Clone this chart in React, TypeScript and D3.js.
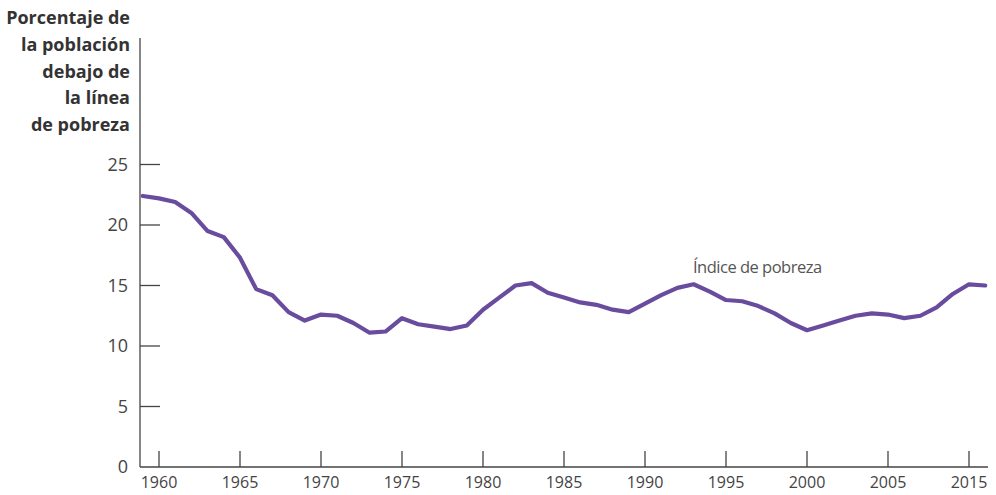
import React from 'react';
import * as d3 from 'd3';

// US poverty rate, 1959-2011
const years = d3.range(1959, 2012);
const povertyRate = [
  22.4, 22.2, 21.9, 21.0, 19.5, 19.0, 17.3, 14.7, 14.2, 12.8,
  12.1, 12.6, 12.5, 11.9, 11.1, 11.2, 12.3, 11.8, 11.6, 11.4,
  11.7, 13.0, 14.0, 15.0, 15.2, 14.4, 14.0, 13.6, 13.4, 13.0,
  12.8, 13.5, 14.2, 14.8, 15.1, 14.5, 13.8, 13.7, 13.3, 12.7,
  11.9, 11.3, 11.7, 12.1, 12.5, 12.7, 12.6, 12.3, 12.5, 13.2,
  14.3, 15.1, 15.0,
];
const xTickYears = [1960, 1965, 1970, 1975, 1980, 1985, 1990, 1995, 2000, 2005, 2010];
const xTickLabels = ['1960', '1965', '1970', '1975', '1980', '1985', '1990', '1995', '2000', '2005', '2015'];
const yTicks = [0, 5, 10, 15, 20, 25];
const titleLines = ['Porcentaje de', 'la población', 'debajo de', 'la línea', 'de pobreza'];
const seriesLabel = 'Índice de pobreza';

const W = 996;
const H = 495;
const axisX = 140;
const axisY = 467;
const font = '"Open Sans", "Noto Sans", sans-serif';

export default function App() {
  const x = d3.scaleLinear().domain([1960, 2010]).range([159, 969]);
  const y = d3.scaleLinear().domain([0, 25]).range([axisY, 164.5]);

  const line = d3.line<number>()
    .x((_, i) => x(years[i]))
    .y(d => y(d))
    .curve(d3.curveLinear);

  return (
    <svg width={W} height={H} style={{ position: 'absolute', left: 0, top: 0, background: '#fff' }}>
      {/* axis title */}
      <text fontFamily={font} fontWeight={700} fontSize={18} fill="#333" textAnchor="end">
        {titleLines.map((t, i) => (
          <tspan key={i} x={130} y={24 + i * 26.8}>{t}</tspan>
        ))}
      </text>

      {/* axes */}
      <line x1={axisX} x2={axisX} y1={38} y2={axisY} stroke="#444" strokeWidth={1.3} />
      <line x1={axisX} x2={988} y1={axisY} y2={axisY} stroke="#444" strokeWidth={1.3} />

      {yTicks.filter(v => v > 0).map(v => (
        <line key={v} x1={axisX} x2={160} y1={y(v)} y2={y(v)} stroke="#444" strokeWidth={1.3} />
      ))}
      {yTicks.map(v => (
        <text key={v} x={128} y={y(v) + 6} textAnchor="end" fontFamily={font} fontSize={18} fill="#444">
          {v}
        </text>
      ))}

      {xTickYears.map((yr, i) => (
        <g key={yr}>
          <line x1={x(yr)} x2={x(yr)} y1={axisY} y2={axisY - 16} stroke="#444" strokeWidth={1.3} />
          <text x={x(yr)} y={488} textAnchor="middle" fontFamily={font} fontSize={16} fill="#444">
            {xTickLabels[i]}
          </text>
        </g>
      ))}

      {/* series */}
      <path d={line(povertyRate) || ''} fill="none" stroke="#6a4c9f" strokeWidth={4.2}
        strokeLinejoin="round" strokeLinecap="round" />

      <text x={693} y={273} fontFamily={font} fontSize={16.5} fill="#555" letterSpacing={-0.5}>
        {seriesLabel}
      </text>
    </svg>
  );
}
